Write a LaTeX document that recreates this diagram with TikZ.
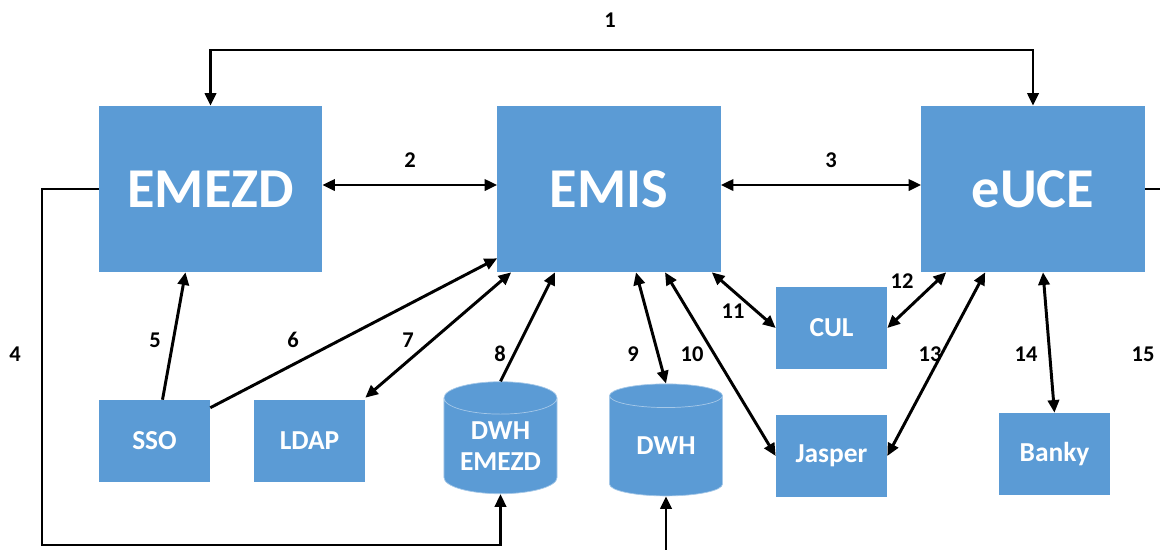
\documentclass[tikz,border=0pt]{standalone}
\usepackage{fontspec}
\setmainfont{Carlito}
\usetikzlibrary{arrows.meta,shapes.geometric,calc}
\definecolor{boxblue}{HTML}{5B9BD5}
\tikzset{
  sysbox/.style={fill=boxblue,text=white,inner sep=0pt,minimum width=5.575cm,minimum height=4.15cm,font=\bfseries\fontsize{40}{44}\selectfont},
  appbox/.style={fill=boxblue,text=white,inner sep=0pt,minimum width=2.775cm,minimum height=2.05cm,font=\bfseries\fontsize{19.5}{22}\selectfont},
  dbbox/.style={shape=cylinder,shape border rotate=90,aspect=0.4,fill=boxblue,draw=boxblue!55!white,line width=0.5pt,text=white,inner sep=0pt,minimum width=2.825cm,minimum height=2.8cm,align=center,font=\bfseries\fontsize{19.5}{22}\selectfont},
  num/.style={font=\bfseries\fontsize{16}{18}\selectfont},
  sgl/.style={line width=2.1pt,-{Triangle[length=9pt,width=8pt]}},
  dbl/.style={line width=2.1pt,{Triangle[length=9pt,width=8pt]}-{Triangle[length=9pt,width=8pt]}}
}
\begin{document}
\begin{tikzpicture}[x=0.025cm,y=-0.025cm]
\useasboundingbox (0,0) rectangle (1160,549);
\clip (0,0) rectangle (1160,549);
% main systems
\node[sysbox] (emezd) at (210.5,189) {EMEZD};
\node[sysbox] (emis) at (609,189) {EMIS};
\node[sysbox] (euce) at (1033,189) {eUCE};
% smaller parts
\node[appbox] (sso) at (154.5,441) {SSO};
\node[appbox] (ldap) at (309.5,441) {LDAP};
\node[dbbox] (dwhe) at (500.5,446) {DWH\\EMEZD};
\node[dbbox] (dwh) at (666,446) {DWH};
\node[appbox] (cul) at (831.5,328) {CUL};
\node[appbox] (jasper) at (831.5,456) {Jasper};
\node[appbox] (banky) at (1054.5,454) {Banky};
% helper points
\coordinate (c1) at (609,50);
\coordinate (c4) at (42,545);
\coordinate (c15) at (1175,565);
% connections
\draw[dbl] (emezd.north) |- (c1) -| (euce.north);
\draw[dbl] ($(emezd.east)+(0,-4)$) -- ($(emis.west)+(0,-4)$);
\draw[dbl] ($(emis.east)+(0,-4)$) -- ($(euce.west)+(0,-4)$);
\draw[sgl] (emezd.west) -| (c4) -| (dwhe.south);
\draw[sgl] ($(sso.north)+(8,0)$) -- ($(emezd.south)+(-25,0)$);
\draw[sgl] ($(sso.north east)+(0,8)$) -- ($(emis.south west)+(0,-14)$);
\draw[dbl] ($(ldap.north east)+(0,-2)$) -- ($(emis.south west)+(14,0)$);
\draw[sgl] (dwhe.north) -- ($(emis.south)+(-54,0)$);
\draw[dbl] ($(emis.south)+(27,0)$) -- (dwh.north);
\draw[dbl] ($(emis.south)+(56,0)$) -- (jasper.west);
\draw[dbl] ($(emis.south east)+(-9,0)$) -- (cul.west);
\draw[dbl] ($(euce.south west)+(25,0)$) -- (cul.east);
\draw[dbl] ($(euce.south west)+(64,0)$) -- (jasper.east);
\draw[dbl] ($(euce.south)+(10,0)$) -- (banky.north);
\draw[sgl] (euce.east) -| (c15) -| (dwh.south);
% numbers
\node[num] (n1) at (610,20) {1};
\node[num] (n2) at (410,160) {2};
\node[num] (n3) at (831,160) {3};
\node[num] (n4) at (15,354) {4};
\node[num] (n5) at (155,340) {5};
\node[num] (n6) at (293,340) {6};
\node[num] (n7) at (408,340) {7};
\node[num] (n8) at (500,354) {8};
\node[num] (n9) at (633,354) {9};
\node[num] (n10) at (692,354) {10};
\node[num] (n11) at (733,311) {11};
\node[num] (n12) at (902,281) {12};
\node[num] (n13) at (930,354) {13};
\node[num] (n14) at (1026,354) {14};
\node[num] (n15) at (1143,354) {15};
\end{tikzpicture}
\end{document}
